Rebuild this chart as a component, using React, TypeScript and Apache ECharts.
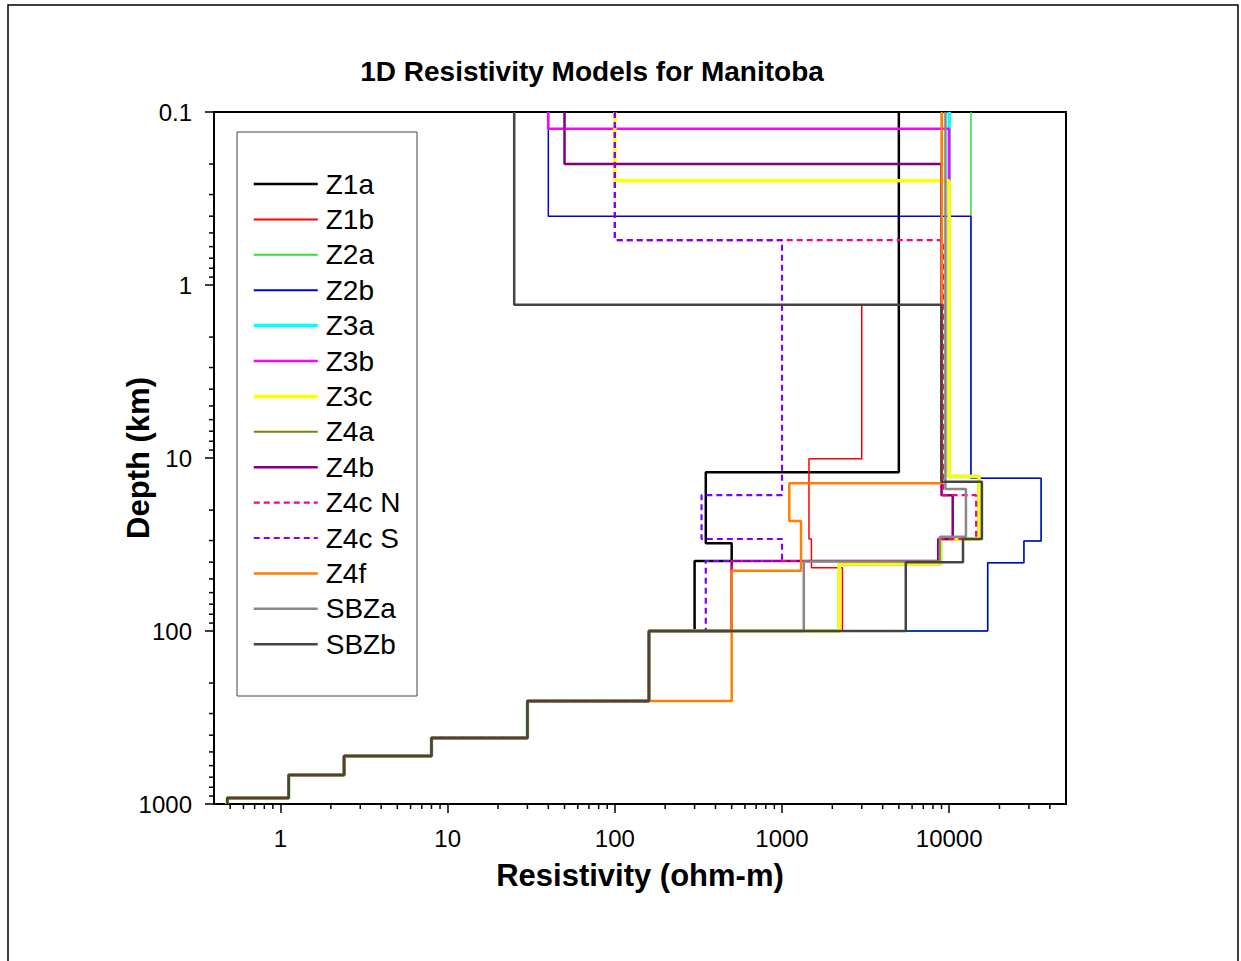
import React, { useEffect, useRef } from "react";
import * as echarts from "echarts";

// Layered 1D models: resistivity (ohm-m) of each layer and the depth (km) of each layer's top
const DEEP_RES = [160, 30, 8, 2.4, 1.12, 0.48];
const DEEP_TOP = [100, 254, 415, 528, 680, 923];

const Z1A_RES = [5000, 350, 500, 300];
const Z1A_TOP = [0.1, 12.1, 31.1, 39.4];
const Z1B_RES = [9000, 3000, 1450, 1500, 2300];
const Z1B_TOP = [0.1, 1.3, 10.1, 29.4, 43.1];
const Z2A_RES = [13500, 35500, 28000, 17000];
const Z2A_TOP = [0.1, 13.1, 30.2, 40.3];
const Z2B_RES = [40, 13500, 35500, 28000, 17000];
const Z2B_TOP = [0.1, 0.4, 13.1, 30.2, 40.3];
const Z3A_RES = [10000, 15100, 8900, 2200];
const Z3A_TOP = [0.1, 12.8, 29.4, 41.0];
const Z3B_RES = [40, 10000, 15100, 8900, 2200];
const Z3B_TOP = [0.1, 0.125, 12.8, 29.4, 41.0];
const Z3C_RES = [100, 10000, 15100, 8900, 2200];
const Z3C_TOP = [0.1, 0.25, 12.8, 29.4, 41.0];
const Z4A_RES = [25, 9000, 15700, 12100, 5500];
const Z4A_TOP = [0.1, 1.3, 13.7, 29.4, 40.1];
const Z4B_RES = [50, 9000, 10500, 8600, 500];
const Z4B_TOP = [0.1, 0.2, 16.4, 29.4, 39.4];
const Z4CN_RES = [100, 9200, 14500, 8800, 500];
const Z4CN_TOP = [0.1, 0.55, 16.4, 29.4, 39.4];
const Z4CS_RES = [100, 1000, 330, 1000, 350];
const Z4CS_TOP = [0.1, 0.55, 16.4, 29.4, 39.4];
const Z4F_RES = [9040, 1106, 1300, 500];
const Z4F_TOP = [0.1, 14.0, 23.1, 44.8];
const SBZA_RES = [9500, 12600, 8800, 1350];
const SBZA_TOP = [0.1, 15.1, 28.5, 39.7];
const SBZB_RES = [25, 9000, 15700, 12100, 5500];
const SBZB_TOP = [0.1, 1.3, 13.7, 29.4, 40.1];

const X_MAJOR = [1, 10, 100, 1000, 10000];
const MINOR_MULT = [2, 3, 4, 5, 6, 7, 8, 9];

const MODELS = [
  { name: "Z1a", res: Z1A_RES, top: Z1A_TOP, deepFrom: 0, color: "#000000", width: 2.5, dash: null },
  { name: "Z1b", res: Z1B_RES, top: Z1B_TOP, deepFrom: 0, color: "#ff0000", width: 1.5, dash: null },
  { name: "Z2a", res: Z2A_RES, top: Z2A_TOP, deepFrom: 0, color: "#33dd33", width: 1.5, dash: null },
  { name: "Z2b", res: Z2B_RES, top: Z2B_TOP, deepFrom: 0, color: "#0000e0", width: 1.5, dash: null },
  { name: "Z3a", res: Z3A_RES, top: Z3A_TOP, deepFrom: 0, color: "#00ffff", width: 3.5, dash: null },
  { name: "Z3b", res: Z3B_RES, top: Z3B_TOP, deepFrom: 0, color: "#ff00ff", width: 2.5, dash: null },
  { name: "Z3c", res: Z3C_RES, top: Z3C_TOP, deepFrom: 0, color: "#ffff00", width: 3.5, dash: null },
  { name: "Z4a", res: Z4A_RES, top: Z4A_TOP, deepFrom: 0, color: "#808000", width: 1.5, dash: null },
  { name: "Z4b", res: Z4B_RES, top: Z4B_TOP, deepFrom: 0, color: "#800080", width: 2.5, dash: null },
  { name: "Z4c N", res: Z4CN_RES, top: Z4CN_TOP, deepFrom: 0, color: "#ff0080", width: 2.2, dash: [6, 4] },
  { name: "Z4c S", res: Z4CS_RES, top: Z4CS_TOP, deepFrom: 0, color: "#8000ff", width: 2.2, dash: [6, 4] },
  { name: "Z4f", res: Z4F_RES, top: Z4F_TOP, deepFrom: 1, color: "#ff8000", width: 2.5, dash: null },
  { name: "SBZa", res: SBZA_RES, top: SBZA_TOP, deepFrom: 0, color: "#888888", width: 2.5, dash: null },
  { name: "SBZb", res: SBZB_RES, top: SBZB_TOP, deepFrom: 0, color: "#444444", width: 2.5, dash: null },
];

function stepPoints(res: number[], top: number[]) {
  const pts: number[][] = [];
  for (let i = 0; i < res.length; i++) {
    const bottom = i + 1 < top.length ? top[i + 1] : 1000;
    pts.push([res[i], top[i]], [res[i], bottom]);
  }
  return pts;
}

const FONT = "Liberation Sans, Arial, sans-serif";

export default function App() {
  const ref = useRef<HTMLDivElement>(null);
  useEffect(() => {
    if (!ref.current) return;
    const chart = echarts.init(ref.current, null, { renderer: "svg" });

    const xMinor: number[] = [];
    [0.1, 1, 10, 100, 1000, 10000].forEach((p) =>
      MINOR_MULT.forEach((m) => {
        const v = Number((p * m).toPrecision(6));
        if (v > 0.4 && v < 50000) xMinor.push(v);
      })
    );
    const yMinor: number[] = [];
    [0.1, 1, 10, 100].forEach((p) =>
      MINOR_MULT.forEach((m) => yMinor.push(Number((p * m).toPrecision(6))))
    );
    const tickData = [
      ...xMinor.map((v) => [v, 1000, 0]),
      ...yMinor.map((d) => [0.4, d, 1]),
    ];

    const lineSeries = MODELS.map((m) => {
      const res = m.res.concat(DEEP_RES.slice(m.deepFrom));
      const top = m.top.concat(DEEP_TOP.slice(m.deepFrom));
      return {
        name: m.name,
        type: "line",
        data: stepPoints(res, top),
        symbol: "none",
        showSymbol: false,
        lineStyle: { color: m.color, width: m.width, type: m.dash ? m.dash : "solid", cap: "butt" },
        itemStyle: { color: m.color },
        emphasis: { disabled: true },
        z: 2,
      };
    });

    const isPow10 = (v: number) => Math.abs(Math.log10(v) - Math.round(Math.log10(v))) < 1e-6;

    chart.setOption({
      animation: false,
      backgroundColor: "#ffffff",
      title: {
        text: "1D Resistivity Models for Manitoba",
        left: 587,
        top: 52,
        textAlign: "center",
        textStyle: { fontFamily: FONT, fontWeight: "bold", fontSize: 28, color: "#000" },
      },
      grid: {
        left: 214,
        top: 112,
        width: 852,
        height: 692,
        show: true,
        borderColor: "#000",
        borderWidth: 2,
        backgroundColor: "transparent",
      },
      legend: {
        data: MODELS.map((m) => ({
          name: m.name,
          lineStyle: { color: m.color, width: Math.max(m.width, 2), type: m.dash ? m.dash : "solid" },
        })),
        orient: "vertical",
        left: 252,
        top: 170,
        padding: 0,
        itemWidth: 64,
        itemHeight: 14,
        itemGap: 7.4,
        z: 10,
        itemStyle: { opacity: 0 },
        textStyle: { fontFamily: FONT, fontSize: 28, color: "#000", padding: [0, 0, 0, 3] },
        selectedMode: false,
      },
      xAxis: {
        type: "log",
        logBase: 10,
        min: 0.4,
        max: 50000,
        name: "Resistivity (ohm-m)",
        nameLocation: "middle",
        nameGap: 56,
        nameMoveOverlap: false,
        nameTextStyle: { fontFamily: FONT, fontWeight: "bold", fontSize: 31, color: "#000" },
        axisLine: { show: true, lineStyle: { color: "#000", width: 2 } },
        axisTick: { show: true, inside: false, length: 9, lineStyle: { color: "#000", width: 1.5 } },
        axisLabel: {
          fontFamily: FONT,
          fontSize: 24,
          color: "#000",
          margin: 22,
          showMinLabel: false,
          showMaxLabel: false,
          formatter: (v: number) => (isPow10(v) && X_MAJOR.some((t) => Math.abs(t - v) / t < 1e-6) ? String(Math.round(v)) : ""),
        },
        splitLine: { show: false },
      },
      yAxis: {
        type: "log",
        logBase: 10,
        min: 0.1,
        max: 1000,
        inverse: true,
        name: "Depth (km)",
        nameLocation: "middle",
        nameGap: 60,
        nameMoveOverlap: false,
        nameRotate: 90,
        nameTextStyle: { fontFamily: FONT, fontWeight: "bold", fontSize: 31, color: "#000" },
        axisLine: { show: true, lineStyle: { color: "#000", width: 2 } },
        axisTick: { show: true, inside: false, length: 9, lineStyle: { color: "#000", width: 1.5 } },
        axisLabel: {
          fontFamily: FONT,
          fontSize: 24,
          color: "#000",
          margin: 22,
          showMinLabel: true,
          showMaxLabel: true,
          formatter: (v: number) => String(Number(v.toPrecision(6))),
        },
        splitLine: { show: false },
      },
      graphic: [
        {
          type: "rect",
          shape: { x: 8, y: 5, width: 1230, height: 1000 },
          style: { fill: "none", stroke: "#000", lineWidth: 1.5 },
          silent: true,
          z: 0,
        },
        {
          type: "rect",
          shape: { x: 237, y: 132, width: 180, height: 564 },
          style: { fill: "none", stroke: "#444", lineWidth: 1 },
          silent: true,
          z: 1,
        },
      ],
      series: [
        ...lineSeries,
        {
          type: "custom",
          name: "minorTicks",
          data: tickData,
          clip: false,
          silent: true,
          z: 3,
          renderItem: (params: any, api: any) => {
            const p = api.coord([api.value(0), api.value(1)]);
            const kind = api.value(2);
            const shape =
              kind === 0
                ? { x1: p[0], y1: p[1], x2: p[0], y2: p[1] + 5 }
                : { x1: p[0] - 5, y1: p[1], x2: p[0], y2: p[1] };
            return { type: "line", shape, style: { stroke: "#000", lineWidth: 1.5 } };
          },
        },
      ],
    });
    return () => chart.dispose();
  }, []);

  return (
    <div
      ref={ref}
      style={{ position: "absolute", left: 0, top: 0, width: 1241, height: 961 }}
    />
  );
}
